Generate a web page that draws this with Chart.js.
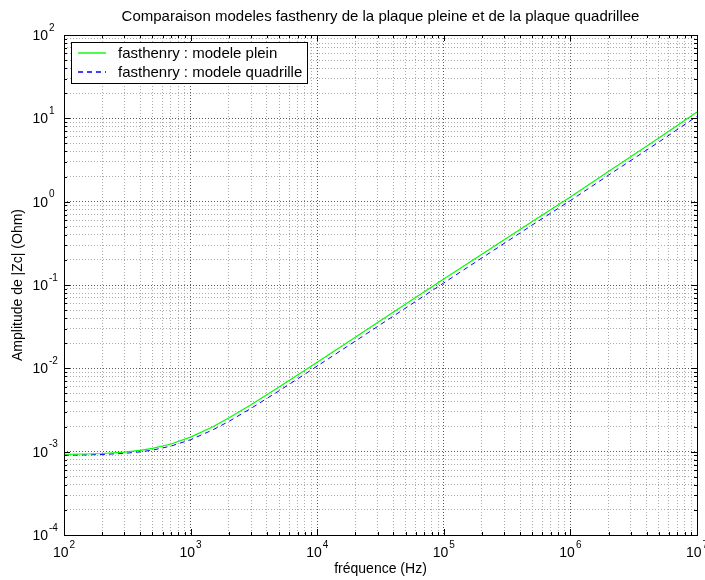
<!DOCTYPE html>
<html><head><meta charset="utf-8">
<script src="https://cdn.jsdelivr.net/npm/chart.js@4/dist/chart.umd.min.js"></script>
<style>html,body{margin:0;padding:0;background:#fff}#wrap{width:705px;height:580px}</style>
</head><body><div id="wrap"><canvas id="c" width="705" height="580"></canvas></div>
<script>
// ---- data ----
const frequencies = [100,150,200,300,400,500,700,1000,1500,2000,3000,5000,7000,1e4,2e4,5e4,1e5,2e5,5e5,1e6,2e6,5e6,1e7];
const plein = [0.000927,0.000937,0.000950,0.000986,0.001034,0.001093,0.001236,0.001496,0.001995,0.002533,0.003658,0.005972,0.00831,0.01184,0.0236,0.059,0.118,0.234,0.58,1.14,2.3,5.8,11.9];
const quadrille = [0.000906,0.000914,0.000925,0.000955,0.000995,0.001044,0.001167,0.001391,0.001827,0.002303,0.003305,0.005376,0.007475,0.01064,0.0212,0.053,0.106,0.211,0.525,1.03,2.08,5.2,10.6];
const seriesLabels = ['fasthenry : modele plein','fasthenry : modele quadrille'];
const xTickExponents = [2,3,4,5,6,7];
const yTickExponents = [-4,-3,-2,-1,0,1,2];
const minorMultipliers = [1,2,3,4,5,6,7,8,9];
const titleText = 'Comparaison modeles fasthenry de la plaque pleine et de la plaque quadrillee';
const xTitle = 'fréquence (Hz)';
const yTitle = 'Amplitude de |Zc| (Ohm)';

const FONT = "'Liberation Sans', Arial, Helvetica, sans-serif";

function logTicks(exps){
  const out = [];
  for (let i = 0; i < exps.length; i++) {
    const e = exps[i];
    if (i === exps.length - 1) { out.push({value: Math.pow(10, e), major: true}); break; }
    minorMultipliers.forEach(m => out.push({value: m * Math.pow(10, e), major: m === 1}));
  }
  return out;
}

const gridColor = ctx => (ctx.tick && ctx.tick.major) ? '#5a5a5a' : '#aaaaaa';

const decor = {
  id: 'decor',
  afterDraw(chart) {
    const {ctx, chartArea: a, scales: {x, y}} = chart;
    ctx.save();
    // inner tick marks
    ctx.strokeStyle = '#000'; ctx.lineWidth = 1;
    ctx.beginPath();
    x.ticks.forEach(t => {
      const px = Math.round(x.getPixelForValue(t.value)) + 0.5;
      const len = t.major ? 6 : 3;
      ctx.moveTo(px, a.bottom); ctx.lineTo(px, a.bottom - len);
      ctx.moveTo(px, a.top); ctx.lineTo(px, a.top + len);
    });
    y.ticks.forEach(t => {
      const py = Math.round(y.getPixelForValue(t.value)) + 0.5;
      const len = t.major ? 6 : 3;
      ctx.moveTo(a.left, py); ctx.lineTo(a.left + len, py);
      ctx.moveTo(a.right, py); ctx.lineTo(a.right - len, py);
    });
    ctx.stroke();
    // box
    ctx.strokeRect(Math.round(a.left) + 0.5, Math.round(a.top) + 0.5, Math.round(a.right - a.left), Math.round(a.bottom - a.top));

    // tick labels
    ctx.fillStyle = '#000';
    ctx.textBaseline = 'middle';
    yTickExponents.forEach(e => {
      const py = y.getPixelForValue(Math.pow(10, e));
      ctx.font = '14px ' + FONT; ctx.textAlign = 'right';
      ctx.fillText('10', 48, py + 1);
      ctx.font = '10px ' + FONT; ctx.textAlign = 'left';
      ctx.fillText(String(e), 49, py - 7);
    });
    xTickExponents.forEach(e => {
      const px = x.getPixelForValue(Math.pow(10, e));
      ctx.font = '14px ' + FONT;
      const w1 = ctx.measureText('10').width;
      ctx.font = '10px ' + FONT;
      const w2 = ctx.measureText(String(e)).width;
      const start = px - (w1 + w2 + 1) / 2;
      ctx.textAlign = 'left';
      ctx.font = '14px ' + FONT;
      ctx.fillText('10', start, 553);
      ctx.font = '10px ' + FONT;
      ctx.fillText(String(e), start + w1 + 1, 545);
    });

    // titles
    ctx.font = '15px ' + FONT;
    ctx.textAlign = 'center';
    ctx.fillText(titleText, (a.left + a.right) / 2, 17);
    ctx.font = '14px ' + FONT;
    ctx.fillText(xTitle, (a.left + a.right) / 2, 569);
    ctx.save();
    ctx.translate(18, (a.top + a.bottom) / 2);
    ctx.rotate(-Math.PI / 2);
    ctx.fillText(yTitle, 0, 0);
    ctx.restore();

    // legend
    const lx = 71, ly = 42, lw = 236, lh = 41;
    ctx.fillStyle = '#fff';
    ctx.fillRect(lx, ly, lw, lh);
    ctx.strokeStyle = '#000';
    ctx.lineWidth = 1;
    ctx.strokeRect(lx + 0.5, ly + 0.5, lw, lh);
    const rows = [53, 72];
    chart.data.datasets.forEach((ds, i) => {
      const ry = rows[i];
      ctx.strokeStyle = ds.borderColor;
      ctx.lineWidth = 1.4;
      ctx.setLineDash(ds.borderDash || []);
      ctx.beginPath(); ctx.moveTo(78, ry); ctx.lineTo(106, ry); ctx.stroke();
      ctx.setLineDash([]);
      ctx.fillStyle = '#000';
      ctx.textAlign = 'left';
      ctx.font = '15px ' + FONT;
      ctx.fillText(ds.label, 118, rows[i] + 1);
    });
    ctx.restore();
  }
};

new Chart(document.getElementById('c'), {
  type: 'line',
  data: {
    datasets: [
      {label: seriesLabels[0], data: frequencies.map((f, i) => ({x: f, y: plein[i]})),
       borderColor: '#00ff00', borderWidth: 1.2, pointRadius: 0, fill: false, tension: 0},
      {label: seriesLabels[1], data: frequencies.map((f, i) => ({x: f, y: quadrille[i]})),
       borderColor: '#0000ff', borderWidth: 1, borderDash: [5, 4], pointRadius: 0, fill: false, tension: 0}
    ]
  },
  options: {
    responsive: false,
    animation: false,
    devicePixelRatio: 1,
    layout: {padding: {left: 0, right: 8, top: 35, bottom: 0}},
    plugins: {legend: {display: false}, title: {display: false}, tooltip: {enabled: false}},
    scales: {
      x: {
        type: 'logarithmic', min: 100, max: 1e7,
        afterBuildTicks: s => { s.ticks = logTicks(xTickExponents); },
        afterFit: s => { s.height = 45; },
        ticks: {display: false},
        grid: {color: gridColor, lineWidth: 1, drawTicks: false},
        border: {display: false, dash: [1, 2]}
      },
      y: {
        type: 'logarithmic', min: 1e-4, max: 100,
        afterBuildTicks: s => { s.ticks = logTicks(yTickExponents); },
        afterFit: s => { s.width = 64; },
        ticks: {display: false},
        grid: {color: gridColor, lineWidth: 1, drawTicks: false},
        border: {display: false, dash: [1, 2]}
      }
    }
  },
  plugins: [decor]
});
</script>
</body></html>
